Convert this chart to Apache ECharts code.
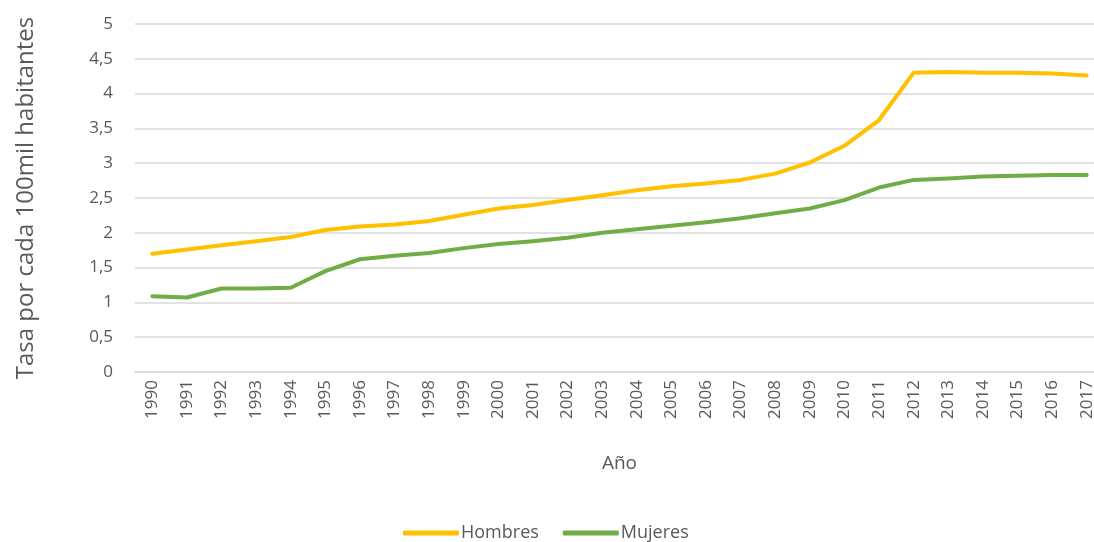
<!DOCTYPE html>
<html>
<head>
<meta charset="utf-8">
<script src="https://cdn.jsdelivr.net/npm/echarts@6/dist/echarts.min.js"></script>
<style>
  html, body { margin: 0; padding: 0; background: #fff; }
  #chart { width: 1094px; height: 542px; }
</style>
</head>
<body>
<div id="chart"></div>
<script>
// años
const years = ['1990','1991','1992','1993','1994','1995','1996','1997','1998','1999',
  '2000','2001','2002','2003','2004','2005','2006','2007','2008','2009',
  '2010','2011','2012','2013','2014','2015','2016','2017'];
// tasa hombres
const hombres = [1.70,1.76,1.82,1.88,1.94,2.04,2.09,2.12,2.17,2.26,
  2.35,2.40,2.47,2.54,2.61,2.67,2.71,2.76,2.85,3.01,
  3.25,3.62,4.30,4.31,4.30,4.30,4.29,4.26];
// tasa mujeres
const mujeres = [1.09,1.07,1.20,1.20,1.21,1.45,1.62,1.67,1.71,1.78,
  1.84,1.88,1.93,2.00,2.05,2.10,2.15,2.21,2.28,2.35,
  2.47,2.65,2.76,2.78,2.81,2.82,2.83,2.83];

const txt = '#595959';
const font = '"Open Sans", "Noto Sans", sans-serif';

const chart = echarts.init(document.getElementById('chart'));
chart.setOption({
  animation: false,
  textStyle: { fontFamily: font, color: txt },
  grid: { left: 135, top: 24, width: 969, height: 348, containLabel: false, outerBoundsMode: 'none' },
  legend: {
    top: 519,
    left: 398,
    icon: 'roundRect',
    itemWidth: 56,
    itemHeight: 5,
    itemGap: 24,
    textStyle: { fontFamily: font, fontSize: 18, color: txt, padding: [0, 0, 0, -3] },
    data: ['Hombres', 'Mujeres']
  },
  xAxis: {
    type: 'category',
    data: years,
    boundaryGap: true,
    name: 'Año',
    nameLocation: 'middle',
    nameGap: 82,
    nameTextStyle: { fontSize: 19, color: txt, fontFamily: font },
    axisLine: { lineStyle: { color: '#d9d9d9', width: 1.5 } },
    axisTick: { show: false },
    axisLabel: { rotate: 90, fontSize: 17, color: txt, margin: 8, interval: 0 }
  },
  yAxis: {
    type: 'value',
    min: 0, max: 5, interval: 0.5,
    name: 'Tasa por cada 100mil habitantes',
    nameLocation: 'middle',
    nameGap: 97,
    nameTextStyle: { fontSize: 24, color: txt, fontFamily: font },
    axisLine: { show: false },
    axisTick: { show: false },
    axisLabel: {
      fontSize: 17, color: txt, margin: 22,
      formatter: v => String(v).replace('.', ',')
    },
    splitLine: { lineStyle: { color: '#d9d9d9', width: 1.5 } }
  },
  series: [
    {
      name: 'Hombres', type: 'line', data: hombres,
      showSymbol: false, symbol: 'none',
      lineStyle: { color: '#FFC000', width: 4, cap: 'round', join: 'round' },
      itemStyle: { color: '#FFC000' }
    },
    {
      name: 'Mujeres', type: 'line', data: mujeres,
      showSymbol: false, symbol: 'none',
      lineStyle: { color: '#70AD47', width: 4, cap: 'round', join: 'round' },
      itemStyle: { color: '#70AD47' }
    }
  ]
});
</script>
</body>
</html>
